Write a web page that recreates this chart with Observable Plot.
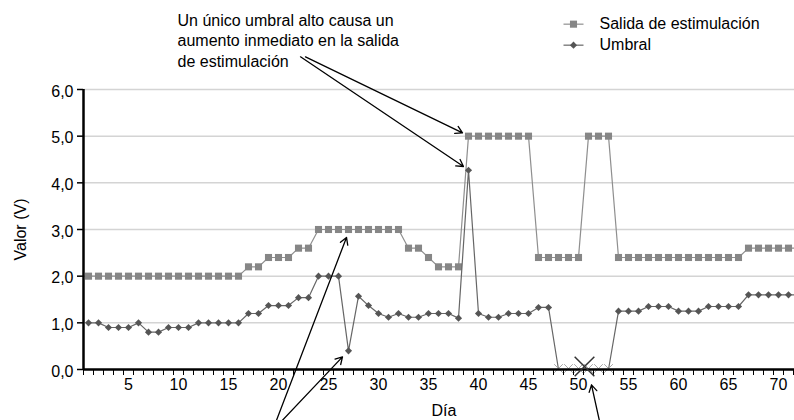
<!DOCTYPE html>
<html>
<head>
<meta charset="utf-8">
<script src="https://cdn.jsdelivr.net/npm/d3@7"></script>
<script src="https://cdn.jsdelivr.net/npm/@observablehq/plot@0.6"></script>
<style>
  html, body { margin: 0; padding: 0; background: #fff; overflow: hidden; }
  #chart { width: 794px; height: 420px; }
</style>
</head>
<body>
<div id="chart"></div>
<script>
// Days (categories)
const days = d3.range(1, 73);

// Series values
const salida = [
  2.0,2.0,2.0,2.0,2.0,2.0,2.0,2.0,2.0,2.0,2.0,2.0,2.0,2.0,2.0,2.0, // 1-16
  2.2,2.2,                 // 17-18
  2.4,2.4,2.4,             // 19-21
  2.6,2.6,                 // 22-23
  3.0,3.0,3.0,3.0,3.0,3.0,3.0,3.0,3.0, // 24-32
  2.6,2.6,                 // 33-34
  2.4,                     // 35
  2.2,2.2,2.2,             // 36-38
  5.0,5.0,5.0,5.0,5.0,5.0,5.0, // 39-45
  2.4,2.4,2.4,2.4,2.4,     // 46-50
  5.0,5.0,5.0,             // 51-53
  2.4,2.4,2.4,2.4,2.4,2.4,2.4,2.4,2.4,2.4,2.4,2.4,2.4, // 54-66
  2.6,2.6,2.6,2.6,2.6,2.6  // 67-72
];
const umbral = [
  1.0,1.0,0.9,0.9,0.9,1.0,0.8,0.8,0.9,0.9,0.9,1.0,1.0,1.0,1.0,1.0, // 1-16
  1.2,1.2,1.37,1.37,1.37,1.54,1.54,2.0,2.0,2.0,                  // 17-26
  0.4,1.57,1.37,1.2,1.12,1.2,1.12,1.12,1.2,1.2,1.2,1.1,            // 27-38
  4.27,1.2,1.12,1.12,1.2,1.2,1.2,1.33,1.33,                        // 39-47
  0,0,0,0,0,0,                                                     // 48-53
  1.25,1.25,1.25,1.35,1.35,1.35,1.25,1.25,1.25,1.35,1.35,1.35,1.35, // 54-66
  1.6,1.6,1.6,1.6,1.6,1.6                                          // 67-72
];

const yTicks = [0,1,2,3,4,5,6];
const xTickLabels = [5,10,15,20,25,30,35,40,45,50,55,60,65,70];
const xTickMarks = d3.range(0.5, 72, 1);
const bigCrossDay = [50.6];

const seriesNames = ["Salida de estimulación", "Umbral"];
const annotationText = "Un único umbral alto causa un\naumento inmediato en la salida\nde estimulación";
const annotationPos = [{x: 9.9, y: 7.68}];
const arrows = [
  {x1: 22.7, y1: 6.70, x2: 38.4, y2: 5.07},
  {x1: 22.2, y1: 6.70, x2: 38.5, y2: 4.35},
  {x1: 19.6, y1: -1.2, x2: 26.8, y2: 2.83},
  {x1: 19.9, y1: -1.2, x2: 26.4, y2: 0.27},
  {x1: 52.3, y1: -1.3, x2: 51.3, y2: -0.33}
];
const legendRows = [
  {x1: 48.5, x2: 50.5, xm: 49.5, xt: 52.1, y: 7.40, name: seriesNames[0]},
  {x1: 48.5, x2: 50.5, xm: 49.5, xt: 52.1, y: 6.95, name: seriesNames[1]}
];

const stimData = days.map((d, i) => ({day: d, v: salida[i]}));
const thrData = days.map((d, i) => ({day: d, v: umbral[i]}));

const fmt = v => v.toFixed(1).replace(".", ",");

const chart = Plot.plot({
  width: 794,
  height: 420,
  marginTop: 89,
  marginBottom: 51,
  marginLeft: 83,
  marginRight: 0,
  x: {domain: [0.5, 71.6], axis: null},
  y: {domain: [0, 6], axis: null},
  style: {fontFamily: "'Liberation Sans', Arial, sans-serif", fontSize: "16px", background: "transparent", color: "#000", overflow: "visible"},
  marks: [
    Plot.ruleY(yTicks.filter(v => v > 0), {stroke: "#d4d4d4", strokeWidth: 1.5}),
    Plot.axisY({ticks: yTicks, tickSize: 6, text: null, label: null, stroke: "#000", strokeWidth: 1.5}),
    Plot.axisY({ticks: yTicks, tickFormat: fmt, tickSize: 0, tickPadding: 10, fontSize: 16, label: null, dy: 2}),
    Plot.axisX({ticks: xTickMarks, tickSize: 6, text: null, label: null, stroke: "#000", strokeWidth: 1}),
    Plot.axisX({ticks: xTickLabels, tickSize: 0, tickPadding: 9, fontSize: 16, label: null}),
    Plot.text(["Valor (V)"], {frameAnchor: "left", dx: -63, rotate: -90, fontSize: 16, lineAnchor: "middle", textAnchor: "middle"}),
    Plot.text(["Día"], {frameAnchor: "bottom", dx: 5, dy: 41, fontSize: 16, lineAnchor: "middle", textAnchor: "middle"}),
    // series
    Plot.line(stimData, {x: "day", y: "v", stroke: "#8f8f8f", strokeWidth: 1.2}),
    Plot.dot(stimData, {x: "day", y: "v", symbol: "square", r: 4, fill: "#868686", stroke: "none"}),
    Plot.line(thrData, {x: "day", y: "v", stroke: "#666", strokeWidth: 1.2}),
    Plot.dot(thrData.filter(d => d.v > 0), {x: "day", y: "v", symbol: "diamond2", r: 3.2, fill: "#555", stroke: "none"}),
    Plot.dot(thrData.filter(d => d.v === 0), {x: "day", y: "v", symbol: "times", r: 4, stroke: "#a8a8a8", strokeWidth: 1, dy: -1}),
    // axis lines
    Plot.ruleY([0], {stroke: "#000", strokeWidth: 2.5}),
    Plot.ruleX([0.5], {y1: 0, y2: 6, stroke: "#000", strokeWidth: 2.5}),
    Plot.dot(bigCrossDay, {x: d => d, y: () => 0, symbol: "times", r: 9, stroke: "#333", strokeWidth: 1.5, dy: -3}),
    // annotations
    Plot.text(annotationPos, {x: "x", y: "y", text: () => annotationText, textAnchor: "start", lineAnchor: "top", lineHeight: 1.28, fontSize: 16, fill: "#000"}),
    Plot.arrow(arrows, {x1: "x1", y1: "y1", x2: "x2", y2: "y2", stroke: "#000", strokeWidth: 1.3, headLength: 9, bend: 0}),
    // legend
    Plot.link(legendRows, {x1: "x1", x2: "x2", y1: "y", y2: "y", stroke: (d, i) => i === 0 ? "#8f8f8f" : "#666", strokeWidth: 1.2}),
    Plot.dot(legendRows.slice(0, 1), {x: "xm", y: "y", symbol: "square", r: 4, fill: "#868686"}),
    Plot.dot(legendRows.slice(1), {x: "xm", y: "y", symbol: "diamond2", r: 3.2, fill: "#555"}),
    Plot.text(legendRows, {x: "xt", y: "y", text: "name", textAnchor: "start", lineAnchor: "middle", fontSize: 16, fill: "#000"})
  ]
});
document.getElementById("chart").append(chart);
</script>
</body>
</html>
